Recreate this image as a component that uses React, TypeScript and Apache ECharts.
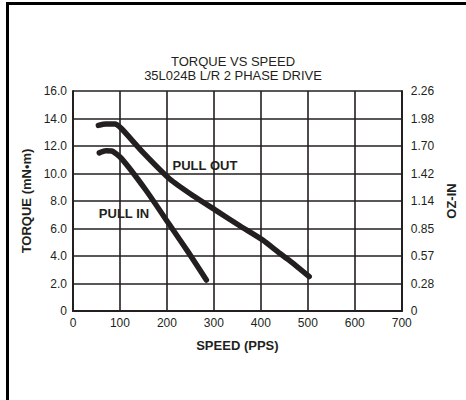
import React, { useEffect, useRef } from "react";
import * as echarts from "echarts";

const titleLines = ["TORQUE VS SPEED", "35L024B L/R 2 PHASE DRIVE"];
const leftTickLabels = ["0", "2.0", "4.0", "6.0", "8.0", "10.0", "12.0", "14.0", "16.0"];
const rightTickLabels = ["0", "0.28", "0.57", "0.85", "1.14", "1.42", "1.70", "1.98", "2.26"];
const pullOutData: [number, number][] = [
  [54, 13.5], [70, 13.6], [89, 13.6], [103, 13.27], [150, 11.5], [206, 9.6],
  [255, 8.4], [305, 7.3], [355, 6.2], [404, 5.16], [440, 4.2], [460, 3.7], [503, 2.5],
];
const pullInData: [number, number][] = [
  [56, 11.5], [70, 11.65], [82, 11.64], [103, 11.1], [155, 8.8], [206, 6.25],
  [245, 4.3], [284, 2.25],
];
const pullOutLabel = { name: "PULL OUT", x: 212, y: 10.6 };
const pullInLabel = { name: "PULL IN", x: 55, y: 7.07 };

const FONT = "Liberation Sans, Arial, sans-serif";
const INK = "#231f20";

export default function App() {
  const ref = useRef<HTMLDivElement>(null);
  useEffect(() => {
    if (!ref.current) return;
    const chart = echarts.init(ref.current, undefined, { renderer: "svg" });
    const lineStyleCommon = { color: INK, width: 5.5, cap: "round" as const, join: "round" as const };
    chart.setOption({
      animation: false,
      backgroundColor: "#fff",
      textStyle: { fontFamily: FONT },
      title: {
        text: titleLines[0],
        subtext: titleLines[1],
        left: "center",
        top: 55,
        padding: 0,
        itemGap: 1,
        textStyle: { fontSize: 13, fontWeight: "normal", color: INK, fontFamily: FONT, lineHeight: 13 },
        subtextStyle: { fontSize: 13, fontWeight: "normal", color: INK, fontFamily: FONT, lineHeight: 13 },
      },
      grid: { left: 73, right: 63, top: 91, bottom: 89, containLabel: false },
      xAxis: {
        type: "value",
        min: 0,
        max: 700,
        interval: 100,
        name: "SPEED (PPS)",
        nameLocation: "middle",
        nameGap: 28,
        nameTextStyle: { fontSize: 13, fontWeight: "bold", color: INK, fontFamily: FONT },
        axisLine: { show: true, lineStyle: { color: INK, width: 2 } },
        axisTick: { show: false },
        splitLine: { show: true, lineStyle: { color: INK, width: 1.6 } },
        axisLabel: { fontSize: 12, color: INK, margin: 6, fontFamily: FONT },
      },
      yAxis: [
        {
          type: "value",
          min: 0,
          max: 16,
          interval: 2,
          position: "left",
          name: "TORQUE (mN•m)",
          nameLocation: "middle",
          nameGap: 35,
          nameTextStyle: { fontSize: 13, fontWeight: "bold", color: INK, fontFamily: FONT },
          axisLine: { show: true, lineStyle: { color: INK, width: 2 } },
          axisTick: { show: false },
          splitLine: { show: true, lineStyle: { color: INK, width: 1.6 } },
          axisLabel: {
            fontSize: 12,
            color: INK,
            margin: 6,
            fontFamily: FONT,
            formatter: (v: number) => leftTickLabels[Math.round(v / 2)] ?? "",
          },
        },
        {
          type: "value",
          min: 0,
          max: 16,
          interval: 2,
          position: "right",
          name: "OZ-IN",
          nameLocation: "middle",
          nameGap: 42,
          nameTextStyle: { fontSize: 13, fontWeight: "bold", color: INK, fontFamily: FONT },
          axisLine: { show: true, lineStyle: { color: INK, width: 2 } },
          axisTick: { show: false },
          splitLine: { show: false },
          axisLabel: {
            fontSize: 12,
            color: INK,
            margin: 9,
            fontFamily: FONT,
            formatter: (v: number) => rightTickLabels[Math.round(v / 2)] ?? "",
          },
        },
      ],
      series: [
        {
          name: "PULL OUT",
          type: "line",
          data: pullOutData,
          smooth: 0.2,
          symbol: "none",
          lineStyle: lineStyleCommon,
        },
        {
          name: "PULL IN",
          type: "line",
          data: pullInData,
          smooth: 0.2,
          symbol: "none",
          lineStyle: lineStyleCommon,
        },
      ],
    });
    const po = chart.convertToPixel({ gridIndex: 0 }, [pullOutLabel.x, pullOutLabel.y]) as number[];
    const pi = chart.convertToPixel({ gridIndex: 0 }, [pullInLabel.x, pullInLabel.y]) as number[];
    const labelStyle = { fill: INK, font: `bold 13px ${FONT}`, textVerticalAlign: "middle" as const };
    chart.setOption({
      graphic: [
        {
          type: "rect",
          shape: { x: 7.5, y: 3.5, width: 480, height: 420 },
          style: { fill: "none", stroke: "#000", lineWidth: 3 },
          silent: true,
        },
        { type: "text", x: po[0], y: po[1], style: { ...labelStyle, text: pullOutLabel.name } },
        { type: "text", x: pi[0], y: pi[1], style: { ...labelStyle, text: pullInLabel.name } },
      ],
    });
    return () => chart.dispose();
  }, []);
  return <div ref={ref} style={{ width: 466, height: 400, position: "absolute", left: 0, top: 0 }} />;
}
